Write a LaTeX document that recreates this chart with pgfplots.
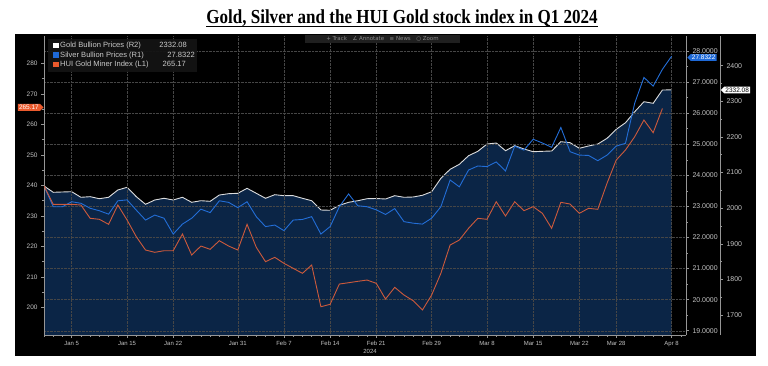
\documentclass[border=0pt]{standalone}
\usepackage{pgfplots}
\pgfplotsset{compat=1.18}
\usepackage{fontspec}
\setmainfont{Liberation Sans}
\newfontfamily\titlefont{Liberation Serif}
\newfontfamily\symfont{DejaVu Sans}
\usetikzlibrary{shapes.symbols}
\definecolor{navyfill}{RGB}{11,37,70}
\definecolor{goldline}{RGB}{220,220,220}
\definecolor{silverline}{RGB}{35,110,215}
\definecolor{huiline}{RGB}{205,90,60}
\definecolor{axisgray}{RGB}{150,150,150}
\definecolor{lblgray}{RGB}{195,195,195}
\definecolor{gridgray}{RGB}{70,70,70}
\definecolor{tagorange}{RGB}{235,90,45}
\definecolor{tagblue}{RGB}{30,105,215}
\pgfplotsset{bb/.style={
  scale only axis, height=299bp, at={(44bp,30bp)}, anchor=south west,
  xmin=0,
  axis line style={draw=axisgray, line width=0.6bp},
  tick style={draw=axisgray, line width=0.5bp},
  tick align=outside, major tick length=3bp, minor tick length=1.6bp,
  ticklabel style={text=lblgray},
  /pgf/number format/assume math mode=true,
  clip=true}}
\begin{document}
\begin{tikzpicture}[x=1bp,y=1bp]
\fill[white] (0,0) rectangle (768,365);
\node[anchor=base, inner sep=0pt] (title) at (402,342) {\scalebox{0.9}[1.05]{\titlefont\bfseries\fontsize{19}{22}\selectfont Gold, Silver and the HUI Gold stock index in Q1 2024}};
\draw[black, line width=1bp] ([yshift=-3.5bp]title.base west) -- ([yshift=-3.5bp]title.base east);
\fill[black] (15,9) rectangle (756,331);

% R2 : gold (area)
\begin{axis}[bb, width=676bp, xmax=73.24, ymin=1643.8, ymax=2483.4,
  axis x line=none, axis y line*=right, xtick=\empty,
  ytick={1700,1800,1900,2000,2100,2200,2300,2400},
  yticklabels={1700,1800,1900,2000,2100,2200,2300,2400},
  minor y tick num=1,
  yticklabel style={font=\fontsize{7}{8}\selectfont}]
\addplot[draw=none, fill=navyfill] coordinates {
(0,2062.2) (1,2044.5) (2,2045.4) (3,2046.2) (4,2030.5) (5,2032.2) (6,2026.5) (7,2030.5) (8,2051.0) (9,2058.5)
(10,2032.2) (11,2010.8) (12,2022.9) (13,2027.7) (14,2022.9) (15,2030.5) (16,2016.4) (17,2020.9) (18,2019.2) (19,2036.9)
(20,2040.6) (21,2041.7) (22,2055.7) (23,2041.7) (24,2027.7) (25,2037.8) (26,2035.0) (27,2035.0) (28,2027.7) (29,2020.9)
(30,1994.8) (31,1994.0) (32,2008.0) (33,2016.4) (34,2020.9) (35,2026.5) (36,2027.1) (37,2025.7) (38,2035.0) (39,2030.5)
(40,2031.3) (41,2036.1) (42,2046.2) (43,2083.8) (44,2109.1) (45,2123.1) (46,2147.3) (47,2159.6) (48,2180.1) (49,2182.9)
(50,2161.3) (51,2175.4) (52,2166.1) (53,2158.5) (54,2159.6) (55,2160.5) (56,2186.6) (57,2183.8) (58,2168.1) (59,2174.5)
(60,2180.1) (61,2196.1) (62,2221.4) (63,2239.9) (64,2270.8) (65,2298.9) (66,2294.4) (67,2331.8) (68,2332.08)
} \closedcycle;
\addplot[goldline, line width=0.9bp] coordinates {
(0,2062.2) (1,2044.5) (2,2045.4) (3,2046.2) (4,2030.5) (5,2032.2) (6,2026.5) (7,2030.5) (8,2051.0) (9,2058.5)
(10,2032.2) (11,2010.8) (12,2022.9) (13,2027.7) (14,2022.9) (15,2030.5) (16,2016.4) (17,2020.9) (18,2019.2) (19,2036.9)
(20,2040.6) (21,2041.7) (22,2055.7) (23,2041.7) (24,2027.7) (25,2037.8) (26,2035.0) (27,2035.0) (28,2027.7) (29,2020.9)
(30,1994.8) (31,1994.0) (32,2008.0) (33,2016.4) (34,2020.9) (35,2026.5) (36,2027.1) (37,2025.7) (38,2035.0) (39,2030.5)
(40,2031.3) (41,2036.1) (42,2046.2) (43,2083.8) (44,2109.1) (45,2123.1) (46,2147.3) (47,2159.6) (48,2180.1) (49,2182.9)
(50,2161.3) (51,2175.4) (52,2166.1) (53,2158.5) (54,2159.6) (55,2160.5) (56,2186.6) (57,2183.8) (58,2168.1) (59,2174.5)
(60,2180.1) (61,2196.1) (62,2221.4) (63,2239.9) (64,2270.8) (65,2298.9) (66,2294.4) (67,2331.8) (68,2332.08)
};
\end{axis}

% R1 : silver, with x axis and grid
\begin{axis}[bb, width=642bp, xmax=69.56, ymin=18.862, ymax=28.483,
  axis y line*=right, axis x line*=bottom,
  ytick={19,20,21,22,23,24,25,26,27,28},
  yticklabels={19.0000,20.0000,21.0000,22.0000,23.0000,24.0000,25.0000,26.0000,27.0000,28.0000},
  minor y tick num=1,
  xtick={3,9,14,21,26,31,36,42,48,53,58,62,68},
  xticklabels={Jan 5,Jan 15,Jan 22,Jan 31,Feb 7,Feb 14,Feb 21,Feb 29,Mar 8,Mar 15,Mar 22,Mar 28,Apr 8},
  minor xtick={0,1,...,69},
  xticklabel style={font=\fontsize{6}{7}\selectfont},
  yticklabel style={font=\fontsize{7}{8}\selectfont},
  xmajorgrids, ymajorgrids,
  grid style={draw=gridgray, densely dotted, line width=0.4bp}]
\addplot[silverline, line width=0.9bp] coordinates {
(0,23.66) (1,22.99) (2,22.99) (3,23.15) (4,23.10) (5,22.94) (6,22.86) (7,22.75) (8,23.18) (9,23.21)
(10,22.88) (11,22.56) (12,22.72) (13,22.62) (14,22.11) (15,22.43) (16,22.62) (17,22.91) (18,22.80) (19,23.18)
(20,23.13) (21,22.96) (22,23.15) (23,22.67) (24,22.35) (25,22.40) (26,22.22) (27,22.56) (28,22.58) (29,22.67)
(30,22.11) (31,22.35) (32,22.99) (33,23.40) (34,23.02) (35,22.99) (36,22.89) (37,22.74) (38,22.93) (39,22.51)
(40,22.46) (41,22.43) (42,22.62) (43,22.99) (44,23.85) (45,23.63) (46,24.17) (47,24.30) (48,24.28) (49,24.43)
(50,24.14) (51,24.94) (52,24.81) (53,25.16) (54,25.04) (55,24.90) (56,25.54) (57,24.76) (58,24.65) (59,24.64)
(60,24.47) (61,24.65) (62,24.94) (63,25.03) (64,26.32) (65,27.15) (66,26.87) (67,27.41) (68,27.8322)
};
\end{axis}

% L1 : HUI
\begin{axis}[bb, width=642bp, xmax=69.56, ymin=190.92, ymax=288.95,
  axis x line=none, axis y line*=left, xtick=\empty,
  ytick={200,210,220,230,240,250,260,270,280},
  yticklabels={200,210,220,230,240,250,260,270,280},
  minor y tick num=1,
  yticklabel style={font=\fontsize{6.5}{7.5}\selectfont}]
\addplot[huiline, line width=0.9bp] coordinates {
(0,239.77) (1,233.77) (2,233.77) (3,233.77) (4,233.54) (5,229.18) (6,228.85) (7,227.21) (8,233.54) (9,228.62)
(10,223.14) (11,218.78) (12,218.03) (13,218.55) (14,218.55) (15,224.03) (16,217.14) (17,220.09) (18,219.01) (19,221.83)
(20,220.09) (21,218.78) (22,227.21) (23,219.67) (24,214.95) (25,216.39) (26,214.42) (27,212.78) (28,211.14) (29,213.86)
(30,200.19) (31,200.98) (32,207.63) (33,208.06) (34,208.52) (35,208.94) (36,207.86) (37,202.71) (38,206.55) (39,204.03)
(40,202.16) (41,199.11) (42,204.03) (43,211.14) (44,220.42) (45,222.06) (46,225.90) (47,229.18) (48,228.85) (49,234.62)
(50,229.93) (51,234.62) (52,231.67) (53,232.98) (54,230.81) (55,225.90) (56,234.42) (57,233.86) (58,230.81) (59,232.45)
(60,232.13) (61,240.65) (62,248.29) (63,251.57) (64,255.93) (65,261.41) (66,257.24) (67,265.17)
};
\end{axis}

% year label
\node[text=lblgray, font=\fontsize{6}{7}\selectfont] at (370,14) {2024};

% toolbar
\fill[black!88] (305,322) rectangle (460,330);
\node[text=black!45, font=\symfont\fontsize{5.5}{6}\selectfont] at (382.5,326) {+ Track\quad ∠ Annotate\quad ≡ News\quad ○ Zoom};

% legend
\fill[black!92, opacity=0.95] (48,293) rectangle (197,326);
\fill[white] (53,317) rectangle (58.5,322.5);
\fill[tagblue] (53,307.5) rectangle (58.5,313);
\fill[tagorange] (53,298) rectangle (58.5,303.5);
\begin{scope}[every node/.style={text=lblgray!90!white, font=\fontsize{7.6}{8}\selectfont, inner sep=0pt}]
\node[anchor=base west] at (60,317.5) {Gold Bullion Prices (R2)};
\node[anchor=base west] at (60,308) {Silver Bullion Prices (R1)};
\node[anchor=base west] at (60,298.5) {HUI Gold Miner Index (L1)};
\node[anchor=base east] at (187,317.5) {2332.08};
\node[anchor=base east] at (195,308) {27.8322};
\node[anchor=base east] at (186,298.5) {265.17};
\end{scope}

% value tags
\node[signal, signal to=east, fill=tagorange, text=white, inner sep=1.2bp, font=\fontsize{6.5}{7}\selectfont, anchor=east] at (43.8,257.7) {265.17};
\node[signal, signal to=west, fill=tagblue, text=white, inner sep=1.2bp, font=\fontsize{6.5}{7}\selectfont, anchor=west] at (687,307.5) {27.8322};
\node[signal, signal to=west, fill=white, text=black, inner sep=1.2bp, font=\fontsize{6.5}{7}\selectfont, anchor=west] at (720.5,275) {2332.08};

\pgfresetboundingbox
\useasboundingbox (0,0) rectangle (768,365);
\end{tikzpicture}
\end{document}
